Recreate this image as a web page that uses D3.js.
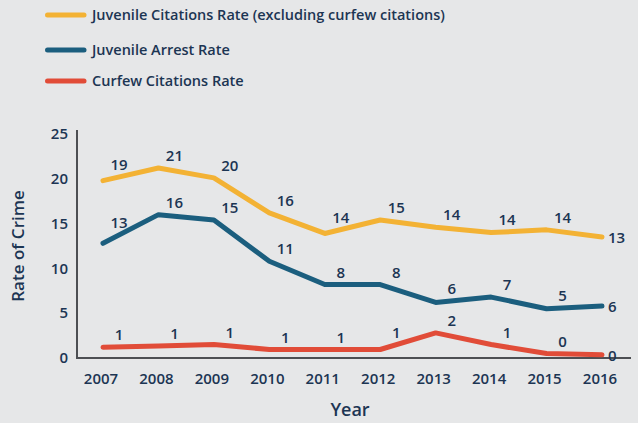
<!DOCTYPE html>
<html>
<head>
<meta charset="utf-8">
<script src="https://cdn.jsdelivr.net/npm/d3@7"></script>
<style>
  body { margin: 0; background: #e6e7e8; }
  svg { display: block; font-family: "Open Sans", sans-serif; }
</style>
</head>
<body>
<svg id="chart" width="638" height="423"></svg>
<script>
var years = [2007, 2008, 2009, 2010, 2011, 2012, 2013, 2014, 2015, 2016];
var yTicks = [0, 5, 10, 15, 20, 25];

var seriesNames = ["Juvenile Citations Rate (excluding curfew citations)", "Juvenile Arrest Rate", "Curfew Citations Rate"];
var citationValues = [19.8, 21.2, 20.1, 16.2, 13.9, 15.4, 14.6, 14.0, 14.3, 13.5];
var citationLabels = ["19", "21", "20", "16", "14", "15", "14", "14", "14", "13"];
var arrestValues = [12.8, 16.0, 15.4, 10.8, 8.2, 8.2, 6.2, 6.8, 5.5, 5.8];
var arrestLabels = ["13", "16", "15", "11", "8", "8", "6", "7", "5", "6"];
var curfewValues = [1.2, 1.35, 1.5, 0.95, 0.95, 0.95, 2.8, 1.5, 0.5, 0.35];
var curfewLabels = ["1", "1", "1", "1", "1", "1", "2", "1", "0", "0"];

var colors = ["#f3b234", "#1b5e7e", "#e14c38"];
var textColor = "#1c3553";

var svg = d3.select("#chart");

var x = d3.scalePoint()
    .domain(years)
    .range([103, 602]);

var y = d3.scaleLinear()
    .domain([0, 25])
    .range([358, 134]);

var series = [
  {name: seriesNames[0], values: citationValues, labels: citationLabels, color: colors[0]},
  {name: seriesNames[1], values: arrestValues, labels: arrestLabels, color: colors[1]},
  {name: seriesNames[2], values: curfewValues, labels: curfewLabels, color: colors[2]}
];

// legend
var legendY = [15, 50, 81];
var legend = svg.append("g");
series.forEach(function(s, i) {
  legend.append("line")
    .attr("x1", 47.5).attr("x2", 84)
    .attr("y1", legendY[i]).attr("y2", legendY[i])
    .attr("stroke", s.color)
    .attr("stroke-width", 5)
    .attr("stroke-linecap", "round");
  legend.append("text")
    .attr("x", 92).attr("y", legendY[i])
    .attr("dy", "0.35em")
    .attr("fill", textColor)
    .attr("font-size", 14.5)
    .attr("font-weight", 600)
    .text(s.name);
});

// axes
svg.append("line")
  .attr("x1", 77).attr("x2", 77)
  .attr("y1", 130).attr("y2", 358)
  .attr("stroke", "#4d4f53").attr("stroke-width", 2);
svg.append("line")
  .attr("x1", 76).attr("x2", 631)
  .attr("y1", 358).attr("y2", 358)
  .attr("stroke", "#4d4f53").attr("stroke-width", 2);

svg.append("g").selectAll("text")
  .data(yTicks)
  .enter().append("text")
    .attr("x", 68)
    .attr("y", function(d) { return y(d); })
    .attr("dy", "0.35em")
    .attr("text-anchor", "end")
    .attr("fill", textColor)
    .attr("font-size", 15)
    .attr("font-weight", 600)
    .text(function(d) { return d; });

svg.append("g").selectAll("text")
  .data(years)
  .enter().append("text")
    .attr("x", function(d) { return x(d) - 2; })
    .attr("y", 379)
    .attr("dy", "0.35em")
    .attr("text-anchor", "middle")
    .attr("fill", textColor)
    .attr("font-size", 15)
    .attr("font-weight", 600)
    .text(function(d) { return d; });

svg.append("text")
  .attr("x", 350).attr("y", 416)
  .attr("text-anchor", "middle")
  .attr("fill", textColor)
  .attr("font-size", 18)
  .attr("font-weight", 600)
  .text("Year");

svg.append("text")
  .attr("transform", "translate(18,246) rotate(-90)")
  .attr("dy", "0.35em")
  .attr("text-anchor", "middle")
  .attr("fill", textColor)
  .attr("font-size", 17)
  .attr("font-weight", 600)
  .text("Rate of Crime");

// lines
var line = d3.line()
  .x(function(d, i) { return x(years[i]); })
  .y(function(d) { return y(d); });

series.forEach(function(s) {
  svg.append("path")
    .datum(s.values)
    .attr("d", line)
    .attr("fill", "none")
    .attr("stroke", s.color)
    .attr("stroke-width", 5)
    .attr("stroke-linecap", "round")
    .attr("stroke-linejoin", "round");
});

// value labels: just right of each point, lifted above the line where it rises
var labelDx = 16;
function labelPos(values, i) {
  var px = x(years[i]), py = y(values[i]);
  if (i === values.length - 1) return [px + 6, py + 1];
  var nx = x(years[i + 1]), ny = y(values[i + 1]);
  var lineY = py + (ny - py) * labelDx / (nx - px);
  return [px + labelDx, Math.min(py, lineY) - 12];
}

series.forEach(function(s) {
  var n = s.values.length;
  svg.append("g").selectAll("text")
    .data(s.values)
    .enter().append("text")
      .attr("x", function(d, i) { return labelPos(s.values, i)[0]; })
      .attr("y", function(d, i) { return labelPos(s.values, i)[1]; })
      .attr("dy", "0.35em")
      .attr("text-anchor", function(d, i) { return i === n - 1 ? "start" : "middle"; })
      .attr("fill", textColor)
      .attr("font-size", 15)
      .attr("font-weight", 600)
      .text(function(d, i) { return s.labels[i]; });
});
</script>
</body>
</html>
